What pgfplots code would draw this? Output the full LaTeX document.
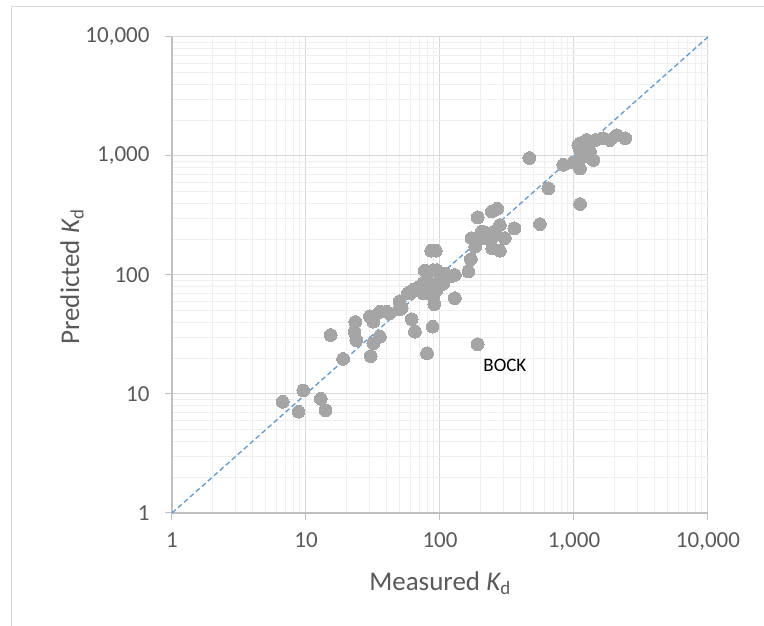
\documentclass[border=0pt]{standalone}
\usepackage{fontspec}
\setmainfont{Carlito}
\usepackage{pgfplots}
\pgfplotsset{compat=1.18}
\definecolor{txt}{HTML}{595959}
\definecolor{bord}{HTML}{D9D9D9}
\definecolor{majg}{HTML}{D9D9D9}
\definecolor{ming}{HTML}{EFEFEF}
\definecolor{axl}{HTML}{BFBFBF}
\definecolor{pts}{HTML}{A5A5A5}
\definecolor{diag}{HTML}{5B9BD5}
\begin{document}
\begin{tikzpicture}[x=1pt,y=1pt]
\path[use as bounding box] (0,0) rectangle (764,626);
\draw[draw=bord, line width=1pt] (11,0) -- (11,619) -- (764,619);
\begin{axis}[
  at={(172pt,113pt)}, anchor=south west, scale only axis,
  width=536pt, height=476pt,
  xmode=log, ymode=log,
  xmin=1, xmax=10000, ymin=1, ymax=10000,
  xtick={1,10,100,1000,10000}, ytick={1,10,100,1000,10000},
  xticklabels={1,10,100,{1,000},{10,000}},
  yticklabels={1,10,100,{1,000},{10,000}},
  minor xtick={2,3,4,5,6,7,8,9,20,30,40,50,60,70,80,90,200,300,400,500,600,700,800,900,2000,3000,4000,5000,6000,7000,8000,9000},
  minor ytick={2,3,4,5,6,7,8,9,20,30,40,50,60,70,80,90,200,300,400,500,600,700,800,900,2000,3000,4000,5000,6000,7000,8000,9000},
  grid=both,
  major grid style={draw=majg, line width=1pt},
  minor grid style={draw=ming, line width=1pt},
  axis x line*=bottom, axis y line*=left,
  axis line style={draw=axl, line width=1.3pt, -},
  tick align=outside, major tick length=7pt, minor tick length=0pt,
  tick style={draw=axl, line width=1pt},
  ticklabel style={font=\fontsize{23}{27}\selectfont, text=txt},
  xticklabel style={yshift=-9pt},
  yticklabel style={xshift=-12pt},
  clip=false,
]
\addplot[draw=diag, line width=1.3pt, dash pattern=on 5pt off 3pt] coordinates {(1,1) (10000,10000)};
\addplot[only marks, mark=*, color=pts, mark size=6.4pt, mark options={fill=pts, draw=pts, line width=0pt}] coordinates {
(6.7,8.6) (8.8,7.1) (9.55,10.7) (12.9,9.1) (14.0,7.3)
(15.3,31.3) (18.9,19.7) (23.3,40.3) (23,33.4) (23.7,28.4)
(30,45) (35.6,49) (31.8,40.5) (35.6,30.3) (31.8,26.7) (30.4,20.8)
(40,49) (41.9,47.7) (49.7,51.5) (51.8,52.5) (50,60) (57.7,70.6)
(61.5,42.5) (65,33.4) (88,36.8) (80,22) (90.6,56.8) (129,64)
(60,70) (58,70) (63,75) (67,77) (71,80) (75,85) (75,70) (80,70)
(84,75) (84,85) (89,66) (94.5,75) (94.5,80) (100,82) (100,91)
(106,85) (106,103) (109,103) (119,97) (77,109) (80,107) (89,110)
(94.5,110) (86,160) (93,160) (129,100) (163,107) (170,136)
(172,204) (183,173) (205,232) (228,224) (256,232) (216,204) (243,204) (194,210)
(191,305) (243,341) (268,360) (280,263) (305,204) (245,167) (280,160)
(359,247) (557,268) (464,962) (643,535) (1109,395) (191,26.2)
(832,843) (988,879) (1109,785) (1109,1122) (1175,992) (1316,1090)
(1390,925) (1109,1280) (1242,1362) (1440,1362) (1658,1408)
(1857,1362) (2081,1497) (2410,1408) (1076,1236) (1175,1052)
};
\node[font=\fontsize{19}{23}\selectfont, text=black] at (axis cs:305,17.5) {BOCK};
\end{axis}
\node[rotate=90, text=txt, font=\fontsize{27}{32}\selectfont] at (72,349) {Predicted {\itshape K}\textsubscript{d}};
\node[text=txt, font=\fontsize{27}{32}\selectfont] at (440,43) {Measured {\itshape K}\textsubscript{d}};
\end{tikzpicture}
\end{document}
